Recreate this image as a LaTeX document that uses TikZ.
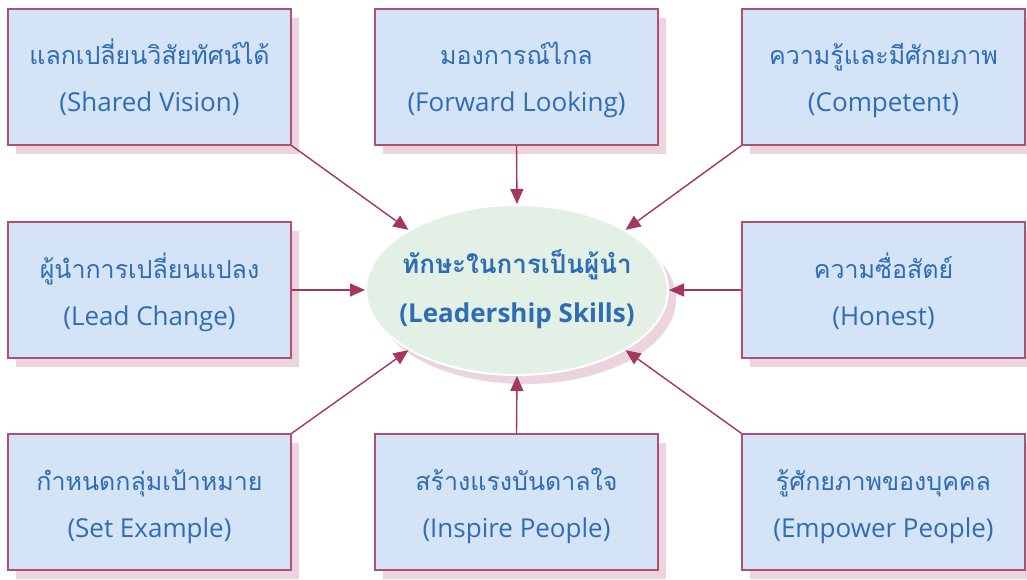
\documentclass[tikz,border=0pt]{standalone}
\usepackage{fontspec}
\setmainfont{Open Sans}
\newfontfamily\thai[Script=Thai]{Loma}
\usetikzlibrary{arrows.meta,shapes.geometric,shadows}
\definecolor{boxfill}{HTML}{D5E3F6}
\definecolor{boxline}{HTML}{B05078}
\definecolor{shade}{HTML}{EBD4DC}
\definecolor{arrowc}{HTML}{A5365F}
\definecolor{txt}{HTML}{2E6DB4}
\definecolor{ellfill}{HTML}{E3F0E5}
\tikzset{
  box/.style={draw=boxline, fill=boxfill, line width=1.3pt, minimum width=283pt, minimum height=136pt, inner sep=0pt,
    drop shadow={shadow xshift=8pt, shadow yshift=-9pt, fill=shade, opacity=1}},
  thailine/.style={anchor=base, text=txt, font=\thai\fontsize{25}{30}\selectfont, inner sep=0pt},
  engline/.style={anchor=base, text=txt, font=\fontsize{26}{31}\selectfont, inner sep=0pt},
  conn/.style={draw=arrowc, line width=1.4pt, -{Triangle[length=15pt,width=13pt]}},
}
\begin{document}
\begin{tikzpicture}[x=1pt,y=-1pt]
\useasboundingbox (0,0) rectangle (1027,580);
\clip (0,0) rectangle (1027,580);
% boxes
\node[box] (b1) at (149.5,77) {};
\node[box] (b2) at (516.5,77) {};
\node[box] (b3) at (883.5,77) {};
\node[box] (b4) at (149.5,290) {};
\node[box] (b6) at (883.5,290) {};
\node[box] (b7) at (149.5,502) {};
\node[box] (b8) at (516.5,502) {};
\node[box] (b9) at (883.5,502) {};
% centre
\node[ellipse, draw=white, line width=2pt, fill=ellfill, minimum width=302pt, minimum height=170pt, inner sep=0pt,
  drop shadow={shadow xshift=8pt, shadow yshift=-9pt, fill=shade, opacity=1}] (ell) at (517,290) {};
% texts
\node[thailine] (t1) at ([yshift=12pt]b1.center) {แลกเปลี่ยนวิสัยทัศน์ได้};
\node[engline] (e1) at ([yshift=-35pt]b1.center) {(Shared Vision)};
\node[thailine] (t2) at ([yshift=12pt]b2.center) {มองการณ์ไกล};
\node[engline] (e2) at ([yshift=-35pt]b2.center) {(Forward Looking)};
\node[thailine] (t3) at ([yshift=12pt]b3.center) {ความรู้และมีศักยภาพ};
\node[engline] (e3) at ([yshift=-35pt]b3.center) {(Competent)};
\node[thailine] (t4) at ([yshift=12pt]b4.center) {ผู้นำการเปลี่ยนแปลง};
\node[engline] (e4) at ([yshift=-35pt]b4.center) {(Lead Change)};
\node[thailine] (t6) at ([yshift=12pt]b6.center) {ความซื่อสัตย์};
\node[engline] (e6) at ([yshift=-35pt]b6.center) {(Honest)};
\node[thailine] (t7) at ([yshift=12pt]b7.center) {กำหนดกลุ่มเป้าหมาย};
\node[engline] (e7) at ([yshift=-35pt]b7.center) {(Set Example)};
\node[thailine] (t8) at ([yshift=12pt]b8.center) {สร้างแรงบันดาลใจ};
\node[engline] (e8) at ([yshift=-35pt]b8.center) {(Inspire People)};
\node[thailine] (t9) at ([yshift=12pt]b9.center) {รู้ศักยภาพของบุคคล};
\node[engline] (e9) at ([yshift=-35pt]b9.center) {(Empower People)};
\node[thailine, font=\thai\bfseries\fontsize{26}{31}\selectfont] (tc) at ([yshift=17pt]ell.center) {ทักษะในการเป็นผู้นำ};
\node[engline, font=\bfseries\fontsize{26}{31}\selectfont] (ec) at ([yshift=-32pt]ell.center) {(Leadership Skills)};
% connectors
\draw[conn] (b1.south east) -- (ell.151);
\draw[conn] (b2.south) -- (ell.north);
\draw[conn] (b3.south west) -- (ell.29);
\draw[conn] (b4.east) -- (ell.west);
\draw[conn] (b6.west) -- (ell.east);
\draw[conn] (b7.north east) -- (ell.209);
\draw[conn] (b8.north) -- (ell.south);
\draw[conn] (b9.north west) -- (ell.331);
\end{tikzpicture}
\end{document}
